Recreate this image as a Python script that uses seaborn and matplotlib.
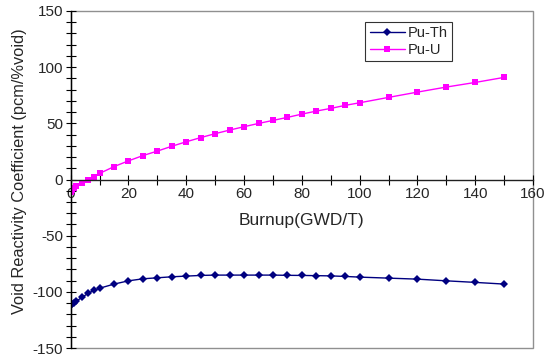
import matplotlib
matplotlib.use("Agg")
import matplotlib.pyplot as plt
import seaborn as sns
import pandas as pd
from matplotlib.patches import Rectangle
from matplotlib.ticker import MultipleLocator

sns.set_style("white")
plt.rcParams['font.family'] = ['Liberation Sans', 'DejaVu Sans']
plt.rcParams['axes.unicode_minus'] = False

burnup = [0, 0.5, 1, 2, 4, 6, 8, 10, 15, 20, 25, 30, 35, 40, 45, 50, 55, 60,
          65, 70, 75, 80, 85, 90, 95, 100, 110, 120, 130, 140, 150]
pu_th = [-111.8, -110.9, -109.8, -108.3, -104.7, -101.4, -98.7, -96.8, -93.1,
         -90.2, -88.4, -87.5, -86.6, -86.0, -85.4, -85.1, -85.1, -85.1,
         -85.1, -85.1, -85.3, -85.4, -85.6, -85.8, -86.3, -86.9, -87.8,
         -88.7, -90.2, -91.6, -93.1]
pu_u = [-11.0, -9.5, -8.0, -6.0, -3.5, -0.5, 2.4, 5.4, 11.5,
        16.6, 21.3, 25.3, 29.6, 33.6, 37.3, 40.8, 44.0, 47.0,
        49.9, 52.6, 55.3, 58.2, 60.9, 63.3, 66.0, 68.3, 73.1,
        77.8, 82.3, 86.4, 90.9]
series_names = ["Pu-Th", "Pu-U"]

df_th = pd.DataFrame({"Burnup": burnup, "Value": pu_th})
df_u = pd.DataFrame({"Burnup": burnup, "Value": pu_u})

fig = plt.figure(figsize=(5.5, 3.56), dpi=100)
ax = fig.add_axes([70.7 / 550, 8 / 356, (533 - 70.7) / 550, 337 / 356])

sns.lineplot(data=df_th, x="Burnup", y="Value", ax=ax, color="#000080",
             marker="D", markersize=4.2, markeredgewidth=0, linewidth=1.0,
             label=series_names[0])
sns.lineplot(data=df_u, x="Burnup", y="Value", ax=ax, color="#FF00FF",
             marker="s", markersize=4.8, markeredgewidth=0, linewidth=1.0,
             label=series_names[1])

ax.set_xlim(0, 160)
ax.set_ylim(-150, 150)
ax.xaxis.set_major_locator(MultipleLocator(20))
ax.xaxis.set_minor_locator(MultipleLocator(10))
ax.yaxis.set_major_locator(MultipleLocator(50))
ax.yaxis.set_minor_locator(MultipleLocator(10))

for s in ["top", "right"]:
    ax.spines[s].set_visible(False)
ax.spines["bottom"].set_position(("data", 0))
ax.spines["bottom"].set_color("#202020")
ax.spines["bottom"].set_linewidth(1.0)
ax.spines["left"].set_color("black")
ax.spines["left"].set_linewidth(1.0)
ax.add_patch(Rectangle((0, 0), 1, 1, transform=ax.transAxes, fill=False,
                       edgecolor="#909090", linewidth=1.0, zorder=0.5,
                       clip_on=False))

ax.tick_params(axis="both", which="both", direction="inout", color="black",
               labelsize=11, width=0.8, left=True, bottom=True)
ax.tick_params(axis="both", which="major", length=7, pad=2)
ax.tick_params(axis="both", which="minor", length=7)

ax.set_xlabel("Burnup(GWD/T)", fontsize=12.5)
ax.set_ylabel("Void Reactivity Coefficient (pcm/%void)", fontsize=11.8)
ax.xaxis.set_label_coords(0.5, 0.40)
ax.yaxis.set_label_coords(-0.095, 0.525)

leg = ax.legend(loc="upper right", bbox_to_anchor=(0.825, 0.968), fontsize=10.5,
                frameon=True, fancybox=False, handlelength=2.4,
                borderpad=0.3, labelspacing=0.2, handletextpad=0.2,
                borderaxespad=0)
leg.get_frame().set_edgecolor("black")
leg.get_frame().set_linewidth(0.8)

fig.savefig("out.png", dpi=100)
